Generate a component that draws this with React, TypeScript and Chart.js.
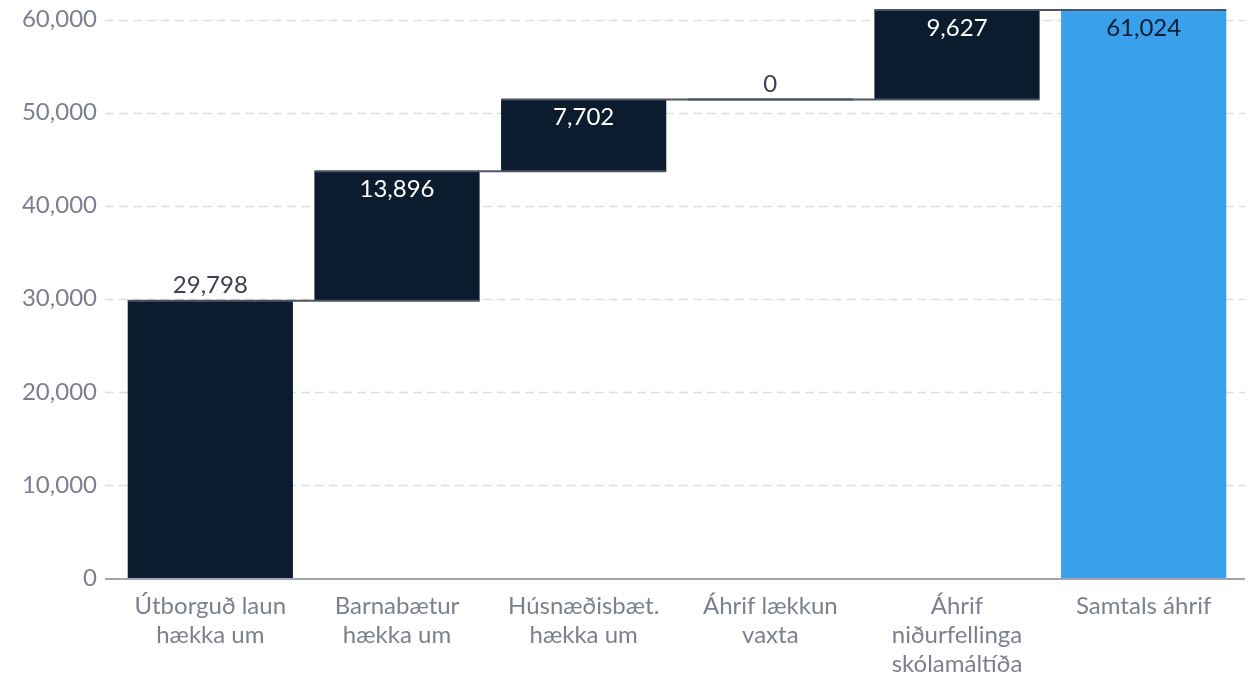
import React, { useEffect, useRef } from "react";
import { Chart, registerables } from "chart.js";

Chart.register(...registerables);

const categories: string[][] = [
  ["Útborguð laun", "hækka um"],
  ["Barnabætur", "hækka um"],
  ["Húsnæðisbæt.", "hækka um"],
  ["Áhrif lækkun", "vaxta"],
  ["Áhrif", "niðurfellinga", "skólamáltíða"],
  ["Samtals áhrif"],
];
const changes = [29798, 13896, 7702, 0, 9627];
const total = 61024;
const yTickValues = [0, 10000, 20000, 30000, 40000, 50000, 60000];
const labelInside = [false, true, true, false, true, true];

const DARK = "#0b1c2e";
const BLUE = "#3aa0ec";
const FONT = "Lato, 'Open Sans', sans-serif";

export default function App() {
  const ref = useRef<HTMLCanvasElement | null>(null);

  useEffect(() => {
    if (!ref.current) return;
    const floating: [number, number][] = [];
    let cum = 0;
    changes.forEach((v) => {
      floating.push([cum, cum + v]);
      cum += v;
    });
    floating.push([0, total]);
    const colors = floating.map((_, i) => (i === floating.length - 1 ? BLUE : DARK));
    const values = [...changes, total];

    const gridPlugin = {
      id: "customGrid",
      beforeDatasetsDraw(chart: any) {
        const { ctx, chartArea, scales } = chart;
        const y = scales.y;
        ctx.save();
        ctx.strokeStyle = "#dedede";
        ctx.lineWidth = 1.5;
        ctx.setLineDash([9, 5]);
        yTickValues.forEach((t) => {
          if (t === 0) return;
          const py = Math.round(y.getPixelForValue(t)) + 0.5;
          ctx.beginPath();
          ctx.moveTo(chartArea.left - 12, py);
          ctx.lineTo(chartArea.right + 8, py);
          ctx.stroke();
        });
        ctx.restore();
      },
      afterDatasetsDraw(chart: any) {
        const { ctx, chartArea, scales } = chart;
        const y = scales.y;
        const meta = chart.getDatasetMeta(0);
        ctx.save();
        ctx.strokeStyle = "#4f5366";
        ctx.lineWidth = 2;
        let c = 0;
        for (let i = 0; i < changes.length; i++) {
          c += changes[i];
          const a = meta.data[i];
          const b = meta.data[i + 1];
          const py = y.getPixelForValue(c);
          ctx.beginPath();
          ctx.moveTo(a.x - a.width / 2, py);
          ctx.lineTo(b.x + b.width / 2, py);
          ctx.stroke();
        }
        ctx.restore();
        ctx.save();
        ctx.strokeStyle = "#a3a4b3";
        ctx.lineWidth = 2;
        const p0 = y.getPixelForValue(0) + 1;
        ctx.beginPath();
        ctx.moveTo(chartArea.left - 12, p0);
        ctx.lineTo(chartArea.right + 8, p0);
        ctx.stroke();
        ctx.restore();
        ctx.save();
        ctx.font = `24px ${FONT}`;
        ctx.textAlign = "center";
        ctx.textBaseline = "middle";
        meta.data.forEach((el: any, i: number) => {
          const top = Math.min(el.y, el.base);
          const txt = values[i].toLocaleString("en-US");
          if (labelInside[i]) {
            ctx.fillStyle = i === values.length - 1 ? "#0b1c2e" : "#ffffff";
            ctx.fillText(txt, el.x, top + 18);
          } else {
            ctx.fillStyle = "#3d4052";
            ctx.fillText(txt, el.x, top - 15);
          }
        });
        ctx.restore();
      },
    };

    const chart = new Chart(ref.current, {
      type: "bar",
      data: {
        labels: categories,
        datasets: [
          {
            data: floating as any,
            backgroundColor: colors,
            borderWidth: 0,
            barPercentage: 0.885,
            categoryPercentage: 1,
          },
        ],
      },
      options: {
        animation: false,
        responsive: false,
        maintainAspectRatio: false,
        layout: { padding: { top: 10, right: 11, left: 0, bottom: 0 } },
        plugins: { legend: { display: false }, tooltip: { enabled: false } },
        scales: {
          x: {
            grid: { display: false, drawTicks: false },
            border: { display: false },
            ticks: {
              color: "#7b7f8f",
              font: { family: FONT, size: 24, lineHeight: 1.2 },
              padding: 14,
              maxRotation: 0,
              autoSkip: false,
            },
            afterFit: (s: any) => {
              s.height = 97;
            },
          },
          y: {
            min: 0,
            max: total,
            grid: { display: false, drawTicks: true, tickLength: 20 },
            border: { display: false },
            afterBuildTicks: (s: any) => {
              s.ticks = yTickValues.map((v) => ({ value: v }));
            },
            ticks: {
              color: "#7b7f8f",
              font: { family: FONT, size: 24, lineHeight: 0.8 },
              padding: 0,
              callback: (v: any) => Number(v).toLocaleString("en-US"),
            },
            afterFit: (s: any) => {
              s.width = 117;
            },
          },
        },
      },
      plugins: [gridPlugin],
    });
    return () => chart.destroy();
  }, []);

  return (
    <div style={{ position: "absolute", left: 0, top: 0, width: 1248, height: 675 }}>
      <canvas ref={ref} width={1248} height={675} style={{ display: "block" }} />
    </div>
  );
}
